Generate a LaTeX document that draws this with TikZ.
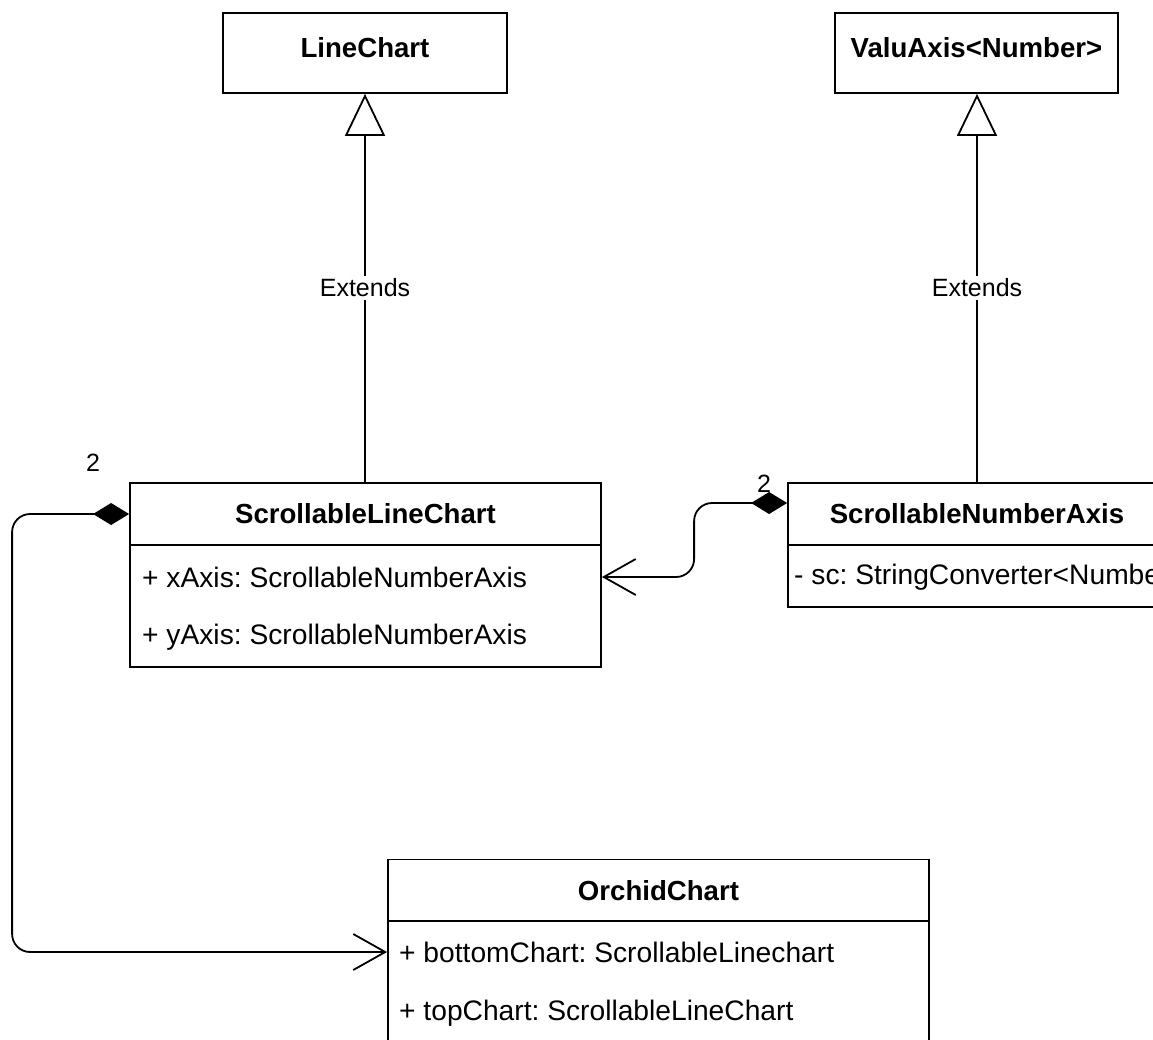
\documentclass[tikz,border=0pt]{standalone}
\usepackage{fontspec}
\setmainfont{Liberation Sans}
\frenchspacing
\usetikzlibrary{arrows.meta,positioning,calc}
\tikzset{
  cls head/.style={
    draw,
    line width=1.8pt,
    rectangle,
    minimum height=62pt,
    inner sep=0pt,
    font=\fontsize{27.6}{32}\selectfont\bfseries
  },
  cls top/.style={
    cls head,
    minimum height=80pt,
    text height=20pt,
    text depth=10.6pt
  },
  cls body/.style={
    draw,
    line width=1.8pt,
    rectangle,
    inner sep=0pt
  },
  attr/.style={
    anchor=west,
    inner sep=0pt,
    font=\fontsize{28.2}{32}\selectfont
  },
  lbl/.style={
    fill=white,
    inner sep=3pt,
    font=\fontsize{25}{30}\selectfont
  },
  mult/.style={
    inner sep=0pt,
    font=\fontsize{25}{30}\selectfont
  },
  extends/.style={
    line width=1.8pt,
    -{Triangle[open, length=42pt, width=40pt]}
  },
  compo/.style={
    line width=1.8pt,
    rounded corners=18pt,
    {Diamond[length=36pt, width=22pt]}-{Straight Barb[length=32pt, width=36pt]}
  }
}

\begin{document}
\begin{tikzpicture}[x=1pt, y=-1pt]
  \useasboundingbox (0,0) rectangle (1153,1039);
  \clip (0,0) rectangle (1153,1039);

  % parent classes
  \node[cls top, minimum width=284pt] (lc) at (365,53) {LineChart};
  \node[cls top, minimum width=283pt] (va) at (976.5,53) {ValuAxis<Number>};

  % scrollable chart
  \node[cls head, minimum width=471pt] (slc) at (365.5,514) {ScrollableLineChart};
  \node[cls body, minimum width=471pt, minimum height=122pt] (slcB) at (365.5,606) {};
  \node[attr] (slcX) at (142,577) {+ xAxis: ScrollableNumberAxis};
  \node[attr] (slcY) at (142,637) {+ yAxis: ScrollableNumberAxis};

  % scrollable axis
  \node[cls head, minimum width=378pt] (sna) at (977,514) {ScrollableNumberAxis};
  \node[cls body, minimum width=378pt, minimum height=62pt] (snaB) at (977,576) {};
  \node[attr] (snaS) at (794,577) {- sc: StringConverter<Number>};

  % orchid chart
  \node[cls head, minimum width=541pt] (oc) at (658.5,890.5) {OrchidChart};
  \node[cls body, minimum width=541pt, minimum height=122pt] (ocB) at (658.5,982) {};
  \node[attr] (ocBot) at (399,952) {+ bottomChart: ScrollableLinechart};
  \node[attr] (ocTop) at (399,1013) {+ topChart: ScrollableLineChart};

  % relations
  \draw[extends] (slc.north -| lc.south) -- node[lbl] {Extends} (lc.south);
  \draw[extends] (sna.north) -- node[lbl] {Extends} (sna.north |- va.south);

  \draw[compo] ([yshift=11pt]sna.west) -- ++(-93,0) |- (slcB.east |- slcX);
  \node[mult] (m1) at (764,484) {2};

  \draw[compo] (slc.west) -- ++(-117,0) |- (ocB.west |- ocBot);
  \node[mult] (m2) at (93,463) {2};
\end{tikzpicture}
\end{document}
